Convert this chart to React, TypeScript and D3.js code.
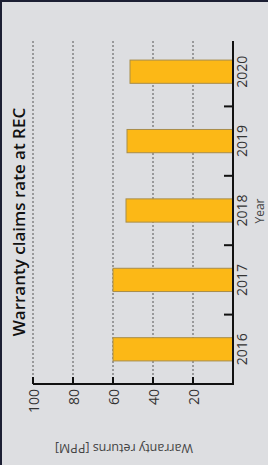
import React, { useEffect, useRef } from 'react';
import * as d3 from 'd3';

const years = ['2016', '2017', '2018', '2019', '2020'];
const returnsPpm = [60, 60, 53.5, 53, 51.5];
const valueTicks = [100, 80, 60, 40, 20];

const W = 268;
const H = 465;

const App = () => {
  const svgRef = useRef<SVGSVGElement>(null);

  useEffect(() => {
    const svg = d3.select(svgRef.current);
    svg.selectAll('*').remove();

    // background: dark frame + light panel
    svg.append('rect').attr('width', W).attr('height', H).attr('fill', '#1c1f33');
    svg.append('rect').attr('x', 2).attr('y', 2).attr('width', W - 2).attr('height', H - 2).attr('fill', '#dddee1');

    // chart is a column chart turned 90deg counter-clockwise
    const x = d3.scaleLinear().domain([0, 100]).range([233, 33]);
    const y = d3.scaleBand<string>().domain(years).range([384, 37]).paddingInner(0.665).paddingOuter(0.3325);
    const step = y.step();
    const axisTop = 41;
    const axisBottom = 384;

    // dashed grid lines
    svg.append('g')
      .selectAll('line')
      .data(valueTicks)
      .enter()
      .append('line')
      .attr('x1', d => x(d))
      .attr('x2', d => x(d))
      .attr('y1', axisTop)
      .attr('y2', axisBottom - 6)
      .attr('stroke', '#555')
      .attr('stroke-width', 1)
      .attr('stroke-dasharray', '2,2');

    // bars
    svg.append('g')
      .selectAll('rect')
      .data(years)
      .enter()
      .append('rect')
      .attr('x', (d, i) => x(returnsPpm[i]))
      .attr('y', d => y(d)!)
      .attr('width', (d, i) => x(0) - x(returnsPpm[i]))
      .attr('height', y.bandwidth())
      .attr('fill', '#fcb816')
      .attr('stroke', '#a88d4a')
      .attr('stroke-width', 1);

    // value axis (bottom)
    svg.append('line')
      .attr('x1', x(100)).attr('x2', x(0) + 1)
      .attr('y1', axisBottom).attr('y2', axisBottom)
      .attr('stroke', '#111').attr('stroke-width', 2);
    svg.append('g')
      .selectAll('line')
      .data(valueTicks)
      .enter()
      .append('line')
      .attr('x1', d => x(d)).attr('x2', d => x(d))
      .attr('y1', axisBottom - 7).attr('y2', axisBottom)
      .attr('stroke', '#111').attr('stroke-width', 2);
    svg.append('g')
      .selectAll('text')
      .data(valueTicks)
      .enter()
      .append('text')
      .attr('transform', d => `translate(${x(d)},${axisBottom + 5}) rotate(-90)`)
      .attr('text-anchor', 'end')
      .attr('dominant-baseline', 'central')
      .attr('font-family', 'Open Sans, sans-serif')
      .attr('font-size', 14)
      .attr('fill', '#333')
      .text(d => d);

    // category axis (right)
    svg.append('line')
      .attr('x1', x(0)).attr('x2', x(0))
      .attr('y1', axisTop).attr('y2', axisBottom + 1)
      .attr('stroke', '#111').attr('stroke-width', 2);
    svg.append('g')
      .selectAll('line')
      .data(years.slice(1))
      .enter()
      .append('line')
      .attr('x1', x(0) - 9).attr('x2', x(0))
      .attr('y1', d => y(d)! + y.bandwidth() / 2 + step / 2)
      .attr('y2', d => y(d)! + y.bandwidth() / 2 + step / 2)
      .attr('stroke', '#111').attr('stroke-width', 2);
    svg.append('g')
      .selectAll('text')
      .data(years)
      .enter()
      .append('text')
      .attr('transform', d => `translate(${x(0) + 8},${y(d)! + y.bandwidth() / 2}) rotate(-90)`)
      .attr('text-anchor', 'middle')
      .attr('dominant-baseline', 'central')
      .attr('font-family', 'Open Sans, sans-serif')
      .attr('font-size', 14)
      .attr('fill', '#333')
      .text(d => d);

    svg.append('text')
      .attr('transform', 'translate(259,211) rotate(-90)')
      .attr('text-anchor', 'middle')
      .attr('dominant-baseline', 'central')
      .attr('font-family', 'Open Sans, sans-serif')
      .attr('font-size', 12)
      .attr('fill', '#444')
      .text('Year');

    svg.append('text')
      .attr('transform', 'translate(124,448) rotate(180)')
      .attr('text-anchor', 'middle')
      .attr('dominant-baseline', 'central')
      .attr('font-family', 'Open Sans, sans-serif')
      .attr('font-size', 12.5)
      .attr('fill', '#444')
      .text('Warranty returns [PPM]');

    // title
    svg.append('text')
      .attr('transform', 'translate(25,222) rotate(-90)')
      .attr('text-anchor', 'middle')
      .attr('font-family', 'Open Sans, sans-serif')
      .attr('font-size', 17)
      .attr('font-weight', 600)
      .attr('fill', '#111')
      .text('Warranty claims rate at REC');
  }, []);

  return <svg ref={svgRef} width={W} height={H} style={{ position: 'absolute', left: 0, top: 0 }}></svg>;
};

export default App;
